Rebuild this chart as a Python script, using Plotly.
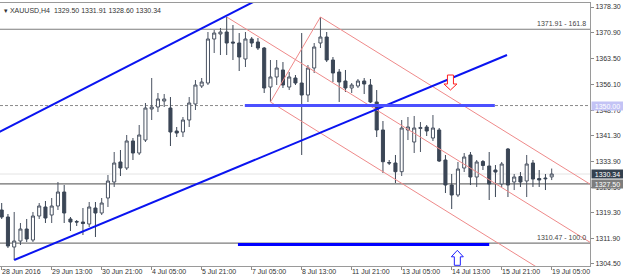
import plotly.graph_objects as go

# ---------------- data ----------------
bar_index = list(range(89))
opens = [1320.00, 1317.99, 1309.37, 1311.10, 1314.54, 1311.38, 1318.28, 1320.86, 1318.56, 1321.15,
         1325.17, 1317.42, 1316.70, 1316.55, 1315.98, 1320.57, 1319.14, 1323.45, 1328.04, 1333.79,
         1332.06, 1339.82, 1336.37, 1340.10, 1349.01, 1349.58, 1351.30, 1349.29, 1342.69, 1342.40,
         1345.85, 1350.44, 1355.61, 1356.47, 1369.11, 1370.55, 1371.12, 1368.25, 1367.96, 1363.37,
         1369.11, 1368.25, 1366.52, 1355.32, 1358.20, 1360.21, 1355.32, 1357.91, 1356.47, 1353.03,
         1360.78, 1367.96, 1369.68, 1363.08, 1359.63, 1357.05, 1355.04, 1355.61, 1357.05, 1355.90,
         1351.02, 1342.98, 1333.64, 1333.50, 1331.00, 1342.98, 1339.53, 1343.41, 1343.84, 1340.68,
         1342.98, 1334.36, 1327.18, 1324.31, 1332.06, 1335.80, 1329.48, 1333.93, 1332.64, 1331.49,
         1327.47, 1337.52, 1328.04, 1329.62, 1328.33, 1333.50, 1329.05, 1329.19, 1329.50]
highs = [1322.01, 1318.85, 1319.43, 1316.27, 1317.42, 1319.43, 1322.01, 1322.59, 1323.45, 1328.04,
         1327.18, 1317.99, 1317.13, 1320.57, 1322.30, 1322.30, 1323.45, 1330.05, 1336.66, 1337.23,
         1341.54, 1340.68, 1344.41, 1350.73, 1357.91, 1353.60, 1353.31, 1352.45, 1343.84, 1346.71,
         1352.45, 1357.33, 1357.91, 1371.12, 1371.69, 1372.27, 1375.43, 1373.13, 1370.83, 1371.12,
         1369.68, 1369.40, 1366.81, 1363.08, 1363.08, 1362.50, 1359.63, 1358.77, 1370.83, 1361.64,
         1367.96, 1375.43, 1371.12, 1363.94, 1360.49, 1360.21, 1356.47, 1357.62, 1357.91, 1357.62,
         1354.46, 1345.56, 1334.36, 1335.80, 1345.85, 1346.71, 1347.00, 1345.27, 1344.41, 1347.28,
         1343.55, 1335.80, 1330.34, 1333.79, 1336.37, 1336.66, 1334.36, 1334.36, 1336.66, 1332.92,
         1333.79, 1337.81, 1330.34, 1330.91, 1335.80, 1334.36, 1331.49, 1330.34, 1331.91]
lows = [1317.42, 1309.09, 1305.64, 1309.95, 1310.81, 1310.81, 1317.42, 1316.27, 1316.27, 1320.00,
        1316.27, 1313.97, 1315.41, 1312.82, 1315.12, 1312.25, 1318.56, 1320.86, 1326.61, 1329.76,
        1331.49, 1334.36, 1335.80, 1339.53, 1345.85, 1348.14, 1349.58, 1338.38, 1340.96, 1340.96,
        1343.84, 1348.72, 1355.04, 1355.90, 1365.09, 1364.51, 1364.51, 1363.08, 1359.92, 1361.07,
        1366.81, 1365.95, 1353.60, 1351.02, 1355.90, 1355.04, 1354.46, 1355.90, 1335.80, 1351.02,
        1359.35, 1366.52, 1362.50, 1356.76, 1351.02, 1353.89, 1353.60, 1355.04, 1353.31, 1350.73,
        1340.96, 1330.63, 1332.92, 1327.75, 1329.76, 1340.10, 1336.37, 1336.66, 1341.25, 1339.82,
        1333.79, 1324.88, 1320.29, 1323.73, 1330.91, 1327.18, 1326.61, 1331.49, 1322.87, 1323.73,
        1326.61, 1323.73, 1325.74, 1326.61, 1323.73, 1326.61, 1326.61, 1325.74, 1328.60]
closes = [1317.99, 1309.66, 1311.10, 1314.54, 1311.67, 1318.28, 1321.15, 1317.70, 1321.15, 1325.17,
          1319.14, 1316.55, 1316.55, 1316.12, 1320.86, 1319.14, 1322.01, 1328.33, 1333.50, 1332.06,
          1339.82, 1336.37, 1341.54, 1349.29, 1349.58, 1351.88, 1351.88, 1342.40, 1342.11, 1345.85,
          1350.73, 1355.90, 1356.76, 1369.11, 1370.83, 1371.12, 1367.96, 1367.96, 1363.94, 1369.11,
          1367.96, 1366.52, 1355.04, 1358.20, 1360.78, 1355.90, 1358.20, 1356.47, 1353.03, 1360.78,
          1366.81, 1369.68, 1363.08, 1359.35, 1356.76, 1355.04, 1355.90, 1357.05, 1356.19, 1351.02,
          1342.98, 1333.87, 1333.50, 1331.00, 1343.55, 1343.84, 1343.55, 1343.70, 1342.69, 1343.55,
          1334.07, 1327.18, 1324.31, 1331.77, 1335.22, 1329.48, 1333.79, 1332.78, 1327.47, 1330.91,
          1333.21, 1327.18, 1329.48, 1328.04, 1333.21, 1328.90, 1328.62, 1328.99, 1330.34]

x_tick_idx = [0, 8, 16, 24, 32, 40, 48, 56, 64, 72, 80, 88]
x_tick_text = ["28 Jun 2016", "29 Jun 13:00", "30 Jun 21:00", "4 Jul 05:00", "5 Jul 21:00",
               "7 Jul 05:00", "8 Jul 13:00", "11 Jul 21:00", "13 Jul 05:00", "14 Jul 13:00",
               "15 Jul 21:00", "19 Jul 05:00"]
y_tick_vals = [1378.30, 1370.90, 1363.50, 1356.10, 1348.70, 1341.30, 1333.90, 1326.50,
               1319.30, 1311.90, 1304.50]
y_tick_text = ["%.2f" % v for v in y_tick_vals]

header = "XAUUSD,H4  1329.50 1331.91 1328.60 1330.34"
fib_levels = [1371.91, 1310.47]
fib_texts = ["1371.91 - 161.8", "1310.47 - 100.0"]
hline_level = 1327.50
dashed_level = 1350.00
bid = 1330.34

# trend lines (bar index, price)
blue_upper = [(-1, 1341.83), (41, 1380.43)]
blue_lower = [(2, 1305.64), (80.85, 1364.51)]
blue_seg_1350 = [(38.9, 1350.00), (78.9, 1350.00)]
blue_seg_low = [(37.8, 1310.09), (78.0, 1310.09)]
red_slope = -1.113
red_mid = (36, 1375.43)
red_top = (51, 1375.43)
red_low = (43, 1351.02)
red_end = 95
fib_line = [(43, 1351.02), (51, 1375.43)]
down_arrow = (71.8, 1354.46)
up_arrow = (72.9, 1308.43)

# ---------------- figure ----------------
FONT = "Liberation Sans, Arial, sans-serif"
W, H = 623, 277
ML, MR, MT, MB = 0, 33, 3, 11
x_range = [-0.272, 94.128]
y_range = [1303.92, 1379.45]

fig = go.Figure()
fig.add_trace(go.Candlestick(
    x=bar_index, open=opens, high=highs, low=lows, close=closes,
    increasing=dict(fillcolor="#ffffff", line=dict(color="#4a5362", width=1)),
    decreasing=dict(fillcolor="#3b4656", line=dict(color="#3b4656", width=1)),
    whiskerwidth=0, showlegend=False, hoverinfo="skip"))

shapes = []
def hline(y, color, width, dash="solid"):
    shapes.append(dict(type="line", xref="paper", x0=0, x1=1, yref="y", y0=y, y1=y,
                       line=dict(color=color, width=width, dash=dash), layer="below"))

hline(bid, "#e4e4e4", 1)
for lv in fib_levels:
    hline(lv, "#7c7c7c", 1.2)
hline(hline_level, "#6f6f6f", 1.2)
hline(dashed_level, "#8a8a8a", 1, "3px,2px")

def seg(p0, p1, color, width):
    shapes.append(dict(type="line", xref="x", yref="y", x0=p0[0], y0=p0[1], x1=p1[0], y1=p1[1],
                       line=dict(color=color, width=width)))

RED = "#ef8a8a"
seg(red_mid, (red_end, red_mid[1] + red_slope * (red_end - red_mid[0])), RED, 1)
seg(red_top, (red_end, red_top[1] + red_slope * (red_end - red_top[0])), RED, 1)
seg(red_low, (red_end, red_low[1] + red_slope * (red_end - red_low[0])), RED, 1)
seg(fib_line[0], fib_line[1], RED, 1)

BLUE = "#0a14f0"
seg(blue_upper[0], blue_upper[1], BLUE, 2)
seg(blue_lower[0], blue_lower[1], BLUE, 2)
seg(blue_seg_1350[0], blue_seg_1350[1], "#4b50ff", 3)
seg(blue_seg_low[0], blue_seg_low[1], "#0000ff", 3)

# arrows (pixel-size paths anchored at data points, y up positive)
shapes.append(dict(type="path", xref="x", yref="y", xsizemode="pixel", ysizemode="pixel",
                   xanchor=down_arrow[0], yanchor=down_arrow[1],
                   path="M 0,0 L -6.5,6 L -3,6 L -3,15 L 3,15 L 3,6 L 6.5,6 Z",
                   line=dict(color="#ff2020", width=1), fillcolor="#ffffff"))
shapes.append(dict(type="path", xref="x", yref="y", xsizemode="pixel", ysizemode="pixel",
                   xanchor=up_arrow[0], yanchor=up_arrow[1],
                   path="M 0,0 L -6,-6.5 L -3,-6.5 L -3,-15 L 3,-15 L 3,-6.5 L 6,-6.5 Z",
                   line=dict(color="#2020ff", width=1), fillcolor="#ffffff"))

annotations = []
# header
annotations.append(dict(xref="paper", yref="paper", x=0, y=1, xanchor="left", yanchor="top",
                        xshift=2, yshift=-2, text="\u25be " + header, showarrow=False,
                        font=dict(family=FONT, size=7, color="#333333"), bgcolor="#ffffff"))
# fib labels
for lv, t in zip(fib_levels, fib_texts):
    annotations.append(dict(xref="paper", yref="y", x=1, y=lv, xanchor="right", yanchor="bottom",
                            xshift=-2, yshift=0, text=t, showarrow=False,
                            font=dict(family=FONT, size=7, color="#444444")))
# x tick labels, left aligned at tick
for i, t in zip(x_tick_idx, x_tick_text):
    annotations.append(dict(xref="x", yref="paper", x=i, y=0, xanchor="left", yanchor="top",
                            xshift=-2, yshift=0, text=t, showarrow=False,
                            font=dict(family=FONT, size=7, color="#333333")))
# price boxes on right axis
for v, bg, fg in [(dashed_level, "#c3c3f5", "#ffffff"), (bid, "#34404e", "#ffffff"),
                  (hline_level, "#7d7d7d", "#ffffff")]:
    annotations.append(dict(xref="paper", yref="y", x=1, y=v, xanchor="left", yanchor="middle",
                            xshift=1, text="%.2f" % v, showarrow=False, width=31, height=8,
                            bgcolor=bg, font=dict(family=FONT, size=7, color=fg), borderpad=0))

fig.update_layout(
    width=W, height=H, margin=dict(l=ML, r=MR, t=MT, b=MB, pad=0),
    paper_bgcolor="#ffffff", plot_bgcolor="#ffffff",
    shapes=shapes, annotations=annotations, showlegend=False,
    xaxis=dict(range=x_range, rangeslider=dict(visible=False), showgrid=False, zeroline=False,
               tickvals=x_tick_idx, showticklabels=False, ticks="outside", ticklen=3,
               tickcolor="#8c8c8c", showline=True, linecolor="#9a9a9a", mirror=True),
    yaxis=dict(range=y_range, side="right", showgrid=False, zeroline=False,
               tickvals=y_tick_vals, ticktext=y_tick_text, ticks="outside", ticklen=3,
               tickcolor="#8c8c8c", showline=True, linecolor="#9a9a9a", mirror=True,
               tickfont=dict(family=FONT, size=7, color="#333333")),
)

fig.write_html("out.html")
